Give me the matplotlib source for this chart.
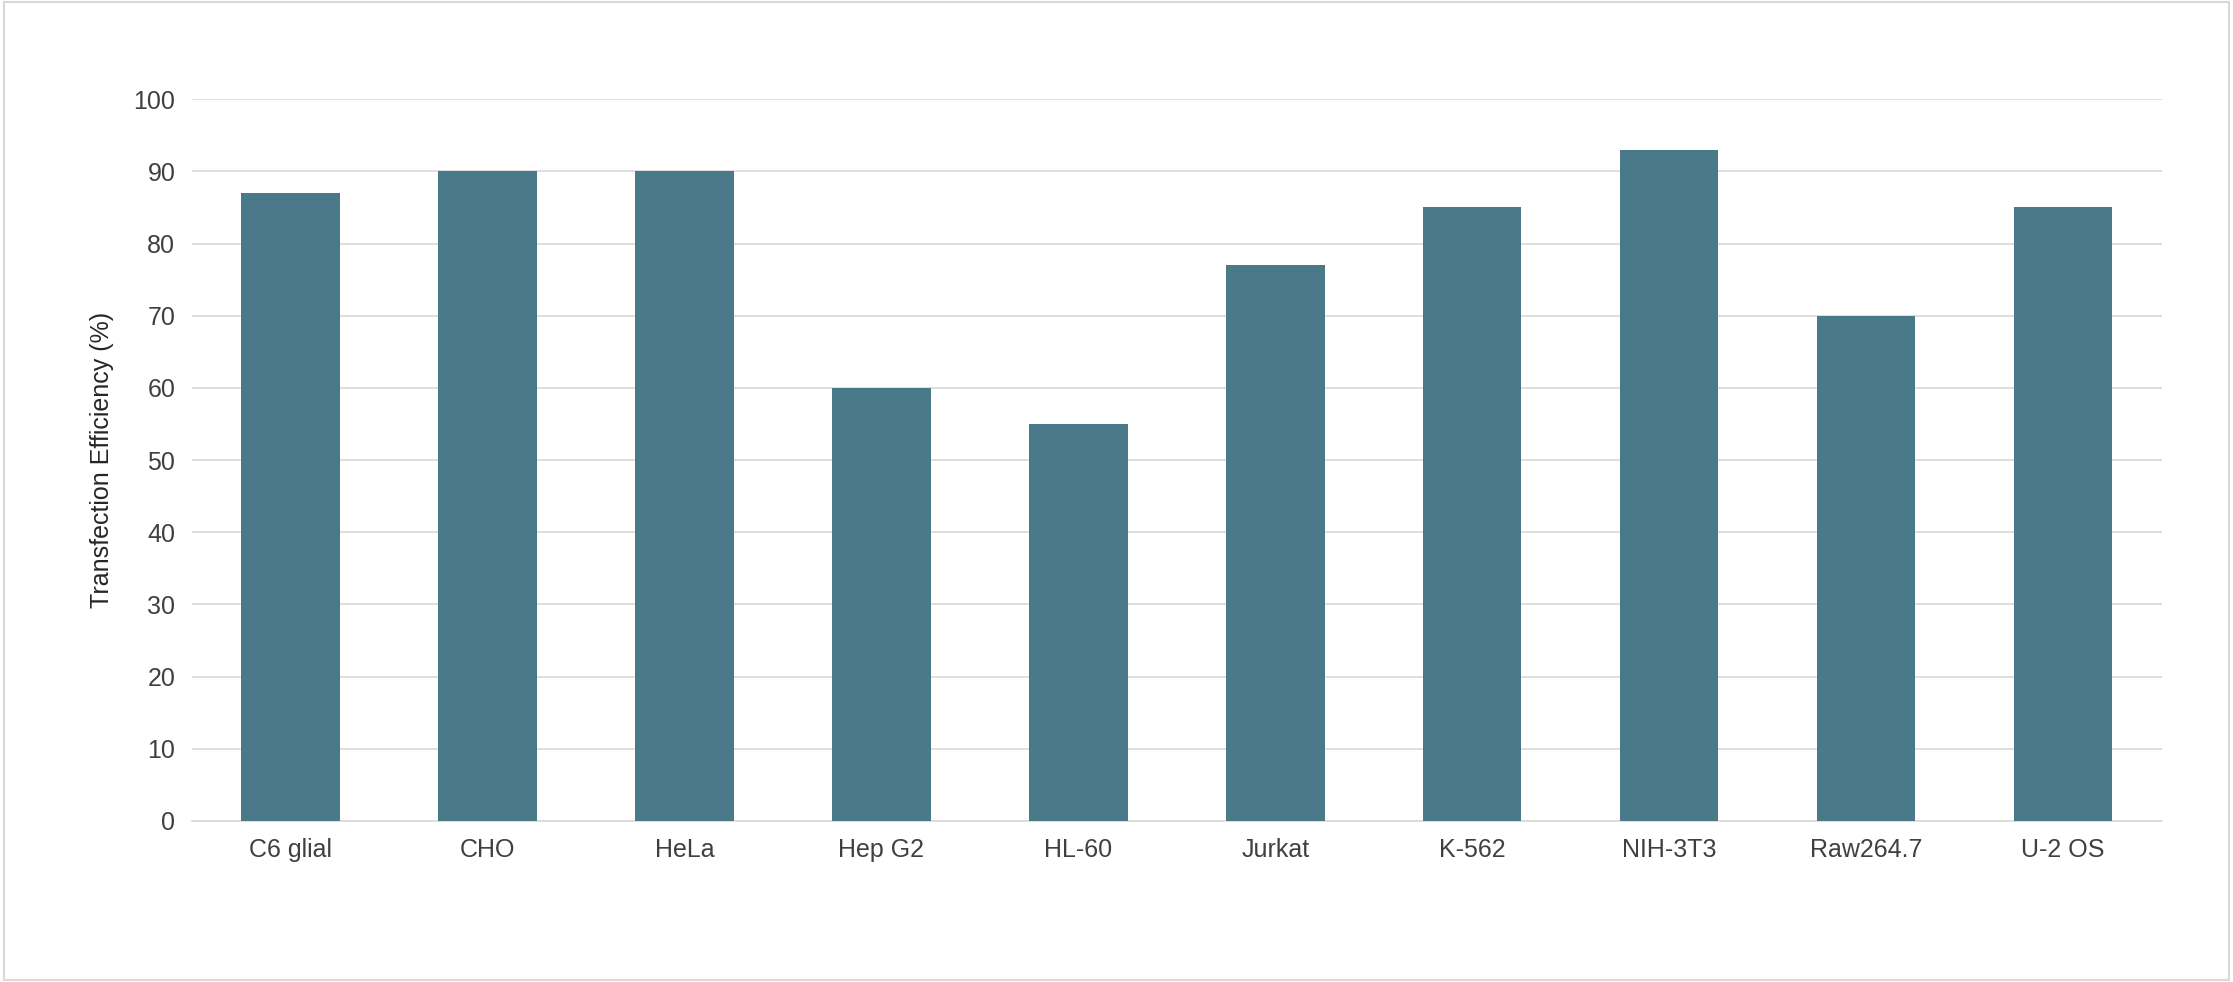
import matplotlib
matplotlib.use("Agg")
import matplotlib.pyplot as plt

categories = ["C6 glial", "CHO", "HeLa", "Hep G2", "HL-60", "Jurkat", "K-562", "NIH-3T3", "Raw264.7", "U-2 OS"]
values = [87, 90, 90, 60, 55, 77, 85, 93, 70, 85]
yticks = [0, 10, 20, 30, 40, 50, 60, 70, 80, 90, 100]

plt.rcParams['font.family'] = ['Liberation Sans', 'DejaVu Sans']
fig = plt.figure(figsize=(22.33, 9.82), dpi=100)
fig.patches.append(plt.Rectangle((0.002, 0.002), 0.996, 0.996, transform=fig.transFigure,
                                 fill=False, edgecolor='#d9d9d9', linewidth=1.5))
ax = fig.add_axes([0.086, 0.164, 0.882, 0.735])
x = range(len(categories))
ax.bar(x, values, width=0.5, color='#4a7a8a', zorder=3)
ax.set_xlim(-0.5, len(categories) - 0.5)
ax.set_ylim(0, 100)
ax.set_yticks(yticks)
ax.set_xticks(list(x))
ax.set_xticklabels(categories)
ax.tick_params(axis='both', length=0, labelsize=18, colors='#404040', pad=12)
ax.grid(axis='y', color='#d9d9d9', linewidth=1.2, zorder=0)
for s in ['top', 'right', 'left']:
    ax.spines[s].set_visible(False)
ax.spines['bottom'].set_color('#d9d9d9')
ax.spines['bottom'].set_linewidth(1.2)
ax.set_ylabel("Transfection Efficiency (%)", fontsize=18, color='#262626', labelpad=14)
fig.savefig("out.png", dpi=100)
